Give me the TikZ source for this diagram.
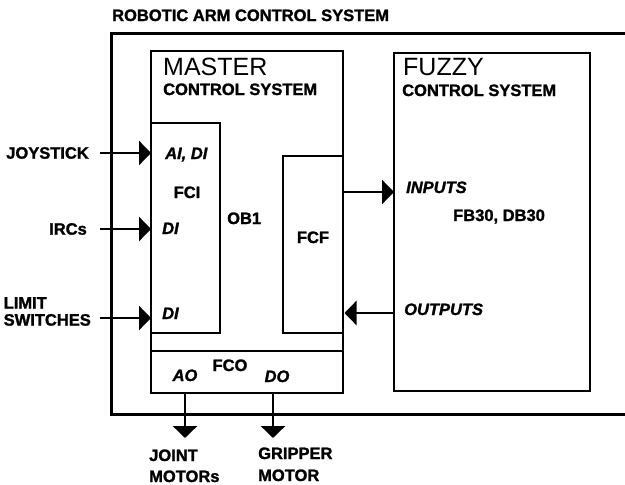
\documentclass[tikz,border=0pt]{standalone}
\usepackage{fontspec}
\setmainfont{Liberation Sans}[BoldFeatures={FakeBold=1.5}, BoldItalicFeatures={FakeBold=1.5}]
\usepackage{tikz}
\usetikzlibrary{positioning, arrows.meta}

\begin{document}
\begin{tikzpicture}[x=1pt, y=-1pt,
      box/.style={rectangle, draw, line width=1.5pt, inner sep=0pt, outer sep=0pt},
      txt/.style={font=\fontsize{16.5}{17}\selectfont\bfseries, inner sep=0pt},
      sig/.style={txt, font=\fontsize{16.5}{17}\selectfont\bfseries\itshape},
      big/.style={font=\fontsize{25}{28}\selectfont, inner sep=0pt},
      arr/.style={line width=2.8pt, -{Triangle[length=12pt, width=24pt]}}
    ]
    \useasboundingbox (0,0) rectangle (625,485);
    \clip (0,0) rectangle (625,485);

    % Whole system (right side runs off the page)
    \node[box, line width=3pt, minimum width=519pt, minimum height=381pt]
          (arm) at (370.5, 223.5) {};
    \node[txt, anchor=base west] (armtitle) at (112, 21) {ROBOTIC ARM CONTROL SYSTEM};

    % Master control system
    \node[box, minimum width=192pt, minimum height=342pt] (master) at (247, 222) {};
    \node[big, anchor=base west] (mname) at (163, 75) {MASTER};
    \node[txt, anchor=base west] (msub) at (163, 95) {CONTROL SYSTEM};
    \node[box, minimum width=69pt, minimum height=210pt] (fci) at (185.5, 228) {};
    \node[box, minimum width=60pt, minimum height=177pt] (fcf) at (313, 244.5) {};
    \node[box, minimum width=192pt, minimum height=42pt] (fco) at (247, 372) {};

    \node[sig, anchor=base west] (aidi) at (165, 159) {AI, DI};
    \node[txt, anchor=base] (fcilbl) at (187, 198) {FCI};
    \node[sig, anchor=base west] (di1) at (162, 234) {DI};
    \node[sig, anchor=base west] (di2) at (162, 319) {DI};
    \node[txt, anchor=base west] (ob1) at (227, 224) {OB1};
    \node[txt, anchor=base] (fcflbl) at (313, 243) {FCF};
    \node[txt, anchor=base] (fcolbl) at (230, 371) {FCO};
    \node[sig, anchor=base] (ao) at (185, 381) {AO};
    \node[sig, anchor=base] (do) at (277, 382) {DO};

    % Fuzzy control system
    \node[box, minimum width=196pt, minimum height=338pt] (fuzzy) at (492, 222) {};
    \node[big, anchor=base west] (fname) at (403, 75) {FUZZY};
    \node[txt, anchor=base west] (fsub) at (402, 96) {CONTROL SYSTEM};
    \node[sig, anchor=base west] (inp) at (406, 193) {INPUTS};
    \node[txt, anchor=base west] (fb30) at (453, 221) {FB30, DB30};
    \node[sig, anchor=base west] (outp) at (404, 315) {OUTPUTS};

    % Field signals in
    \coordinate (jin) at (100, 153);
    \coordinate (iin) at (100, 229);
    \coordinate (lin) at (100, 318);
    \node[txt, left=11pt of jin] (joy) {JOYSTICK};
    \node[txt, left=13pt of iin] (irc) {IRCs};
    \node[txt, align=left, anchor=east] (lim) at (91, 311.5) {LIMIT\\SWITCHES};
    \draw[arr] (jin) -- (jin -| fci.west);
    \draw[arr] (iin) -- (iin -| fci.west);
    \draw[arr] (lin) -- (lin -| fci.west);

    % Master <-> fuzzy
    \coordinate (fin) at (394, 192);
    \coordinate (fout) at (394, 313);
    \draw[arr] (fin -| fcf.east) -- (fin);
    \draw[arr] (fout) -- ([xshift=1.5pt]fout -| fcf.east);

    % Actuators out
    \coordinate (jm) at (185, 438);
    \coordinate (gm) at (273, 438);
    \draw[arr] (jm |- fco.south) -- (jm);
    \draw[arr] (gm |- fco.south) -- (gm);
    \node[txt, align=left, anchor=base west, font=\fontsize{16.5}{21}\selectfont\bfseries]
          (joint) at (149, 482) {JOINT\\MOTORs};
    \node[txt, align=left, anchor=base west, font=\fontsize{16.5}{22}\selectfont\bfseries]
          (grip) at (258, 481) {GRIPPER\\MOTOR};
  \end{tikzpicture}
\end{document}
